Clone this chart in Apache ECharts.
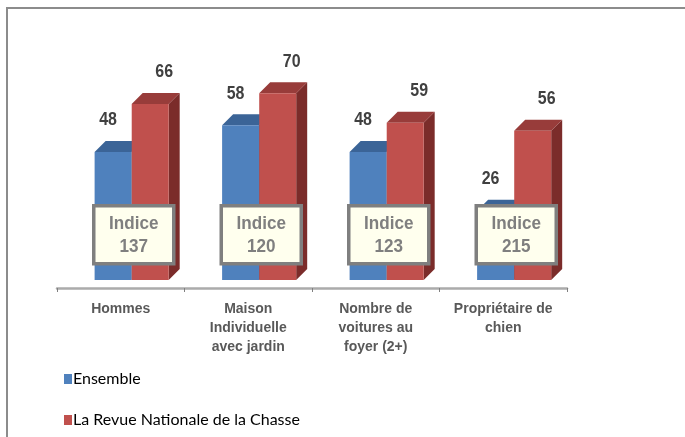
<!DOCTYPE html>
<html>
<head>
<meta charset="utf-8">
<script src="https://cdn.jsdelivr.net/npm/echarts@6/dist/echarts.min.js"></script>
<style>
  html, body { margin: 0; padding: 0; background: #fff; }
  #chart { width: 685px; height: 437px; }
</style>
</head>
<body>
<div id="chart"></div>
<script>
// données
var categories = ['Hommes', 'Maison\nIndividuelle\navec jardin', 'Nombre de\nvoitures au\nfoyer (2+)', 'Propriétaire de\nchien']
var ensemble = [48, 58, 48, 26]
var revue = [66, 70, 59, 56]
var indices = [137, 120, 123, 215]
var seriesNames = ['Ensemble', 'La Revue Nationale de la Chasse']

var DEPTH = 11
var BOX_LEVEL = 17

function textEl(x, y, str, size, color, sx) {
  return {
    type: 'text',
    x: x,
    y: y,
    scaleX: sx || 1,
    style: {
      text: str,
      align: 'center',
      verticalAlign: 'middle',
      fill: color,
      font: 'bold ' + size + 'px "Liberation Sans", Arial, sans-serif'
    }
  }
}

// barre 3D : face avant + dessus + côté
function bar3d(colors, shift, labelDx) {
  return function (params, api) {
    var cat = api.value(0)
    var val = api.value(1)
    var base = api.coord([cat, 0])
    var top = api.coord([cat, val])
    var band = api.size([1, 0])[0]
    var w = band * 0.29
    var x0 = base[0] + band * shift
    var ty = top[1]
    var by = base[1]
    var d = DEPTH
    return {
      type: 'group',
      children: [
        {
          type: 'polygon',
          shape: { points: [[x0 + w, ty], [x0 + w + d, ty - d], [x0 + w + d, by - d], [x0 + w, by]] },
          style: { fill: colors[2] }
        },
        {
          type: 'polygon',
          shape: { points: [[x0, ty], [x0 + d, ty - d], [x0 + w + d, ty - d], [x0 + w, ty]] },
          style: { fill: colors[1] }
        },
        {
          type: 'rect',
          shape: { x: x0, y: ty, width: w, height: by - ty },
          style: { fill: colors[0] }
        },
        // chiffres un peu étroits comme dans l'original
        textEl(x0 + w / 2 + labelDx, ty - 32, String(val), 19, '#404040', 0.84)
      ]
    }
  }
}

function indiceBox(params, api) {
  var cat = api.value(0)
  var p = api.coord([cat, BOX_LEVEL])
  var cx = p[0] + 13
  var cy = p[1]
  return {
    type: 'group',
    children: [
      {
        type: 'rect',
        shape: { x: cx - 40, y: cy - 29, width: 80, height: 58 },
        style: { fill: '#FFFFEE', stroke: '#7F7F7F', lineWidth: 3.5 }
      },
      textEl(cx, cy - 11, 'Indice', 18, '#7F7F7F', 0.95),
      textEl(cx, cy + 12, String(api.value(1)), 18, '#7F7F7F', 0.95)
    ]
  }
}

var chart = echarts.init(document.getElementById('chart'))
chart.setOption({
  animation: false,
  backgroundColor: '#fff',
  graphic: [
    {
      type: 'rect',
      shape: { x: 7, y: 8, width: 700, height: 460 },
      style: { fill: 'none', stroke: '#8C8C8C', lineWidth: 2 }
    }
  ],
  legend: {
    data: seriesNames,
    orient: 'vertical',
    left: 59,
    top: 366,
    icon: 'rect',
    itemWidth: 8,
    itemHeight: 10,
    itemGap: 25,
    textStyle: {
      color: '#000',
      fontSize: 16,
      lineHeight: 16,
      fontFamily: 'Lato, "Liberation Sans", sans-serif',
      padding: [0, 0, 0, -4]
    }
  },
  grid: {
    left: 57,
    right: 118,
    top: 21.3,
    bottom: 149
  },
  xAxis: {
    type: 'category',
    data: categories,
    boundaryGap: true,
    axisLine: {
      onZero: false,
      lineStyle: { color: '#ABABAB', width: 2.5 }
    },
    axisTick: {
      show: true,
      length: 4,
      lineStyle: { color: '#808080', width: 1 }
    },
    axisLabel: {
      interval: 0,
      margin: 12,
      color: '#595959',
      fontSize: 14,
      fontWeight: 'bold',
      lineHeight: 19,
      fontFamily: '"Liberation Sans", Arial, sans-serif'
    }
  },
  yAxis: {
    type: 'value',
    show: false,
    min: -3,
    max: 97,
    splitLine: { show: false }
  },
  series: [
    {
      name: seriesNames[0],
      type: 'custom',
      clip: false,
      itemStyle: { color: '#4F81BD' },
      renderItem: bar3d(['#4F81BD', '#3B6497', '#2F5078'], -0.205, -5),
      data: ensemble.map(function (v, i) { return [i, v] })
    },
    {
      name: seriesNames[1],
      type: 'custom',
      clip: false,
      itemStyle: { color: '#C0504D' },
      renderItem: bar3d(['#C0504D', '#983C3A', '#7B2C2A'], 0.086, 14),
      data: revue.map(function (v, i) { return [i, v] })
    },
    {
      name: 'indice',
      type: 'custom',
      clip: false,
      renderItem: indiceBox,
      data: indices.map(function (v, i) { return [i, v] })
    }
  ]
})
</script>
</body>
</html>
